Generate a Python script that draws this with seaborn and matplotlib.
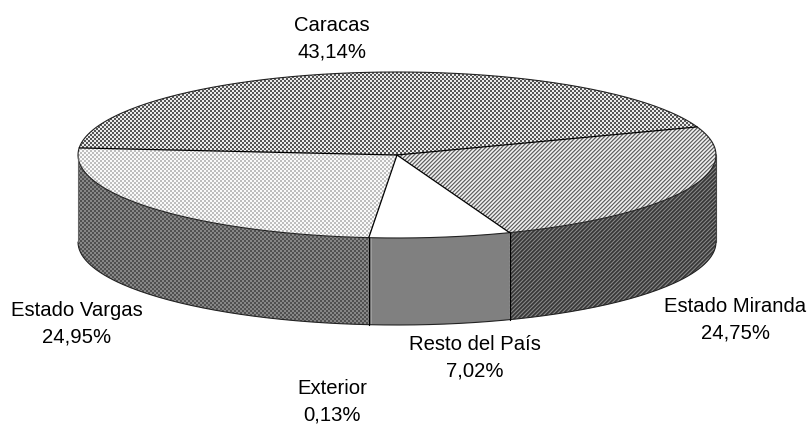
import numpy as np
import seaborn as sns
import matplotlib.pyplot as plt
from matplotlib.patches import Polygon

# Data
regions = ['Caracas', 'Estado Vargas', 'Exterior', 'Resto del País', 'Estado Miranda']
shares = [43.14, 24.95, 0.13, 7.02, 24.75]
share_labels = ['43,14%', '24,95%', '0,13%', '7,02%', '24,75%']

# Layout in pixels
W, H = 808, 424
cx, cy, rx, ry = 397, 155, 319, 83
depth = 87 / ry
start = 19.8
label_pos = [(332, 39), (77, 324), (332, 402), (475, 358), (735, 320)]

# Pixel patterns for the old style fills
tile_caracas = [[85, 85, 235, 235], [85, 85, 235, 235], [235, 235, 85, 85], [235, 235, 85, 85]]
tile_vargas = [[190, 190, 250, 250], [190, 190, 250, 250], [250, 250, 190, 190], [250, 250, 190, 190]]
tile_miranda = [[100, 160, 240, 210], [160, 240, 210, 100], [240, 210, 100, 160], [210, 100, 160, 240]]
tile_vargas_side = [[80, 80, 135, 135], [80, 80, 135, 135], [135, 135, 80, 80], [135, 135, 80, 80]]
tile_miranda_side = [[55, 90, 130, 70], [90, 130, 70, 55], [130, 70, 55, 90], [70, 55, 90, 130]]


def texture(tile):
    tile = np.array(tile, dtype=float)
    return np.tile(tile, (H // 4 + 1, W // 4 + 1))[:H, :W]


sns.set_theme(style='white')
plt.rcParams['font.family'] = ['Liberation Sans', 'DejaVu Sans']

fig = plt.figure(figsize=(W / 100, H / 100), dpi=100, facecolor='white')
ax = fig.add_axes([0, 0, 1, 1])

xlim = (-cx / rx, (W - cx) / rx)
ylim = ((cy - H) / ry, cy / ry)
extent = (xlim[0], xlim[1], ylim[0], ylim[1])


def fill_patch(patch, tile):
    im = ax.imshow(texture(tile), cmap='gray', vmin=0, vmax=255, extent=extent,
                   interpolation='nearest', aspect='auto', zorder=1)
    im.set_clip_path(patch)


# Side walls, only the part facing the viewer
edges = np.cumsum([0] + shares) / 100 * 360 + start
side_fills = [None, tile_vargas_side, 128, 128, tile_miranda_side]
for i, fill in enumerate(side_fills):
    a0, a1 = max(edges[i], 180), min(edges[i + 1], 360)
    if a0 >= a1:
        continue
    t = np.radians(np.linspace(a0, a1, 120))
    top = np.column_stack([np.cos(t), np.sin(t)])
    bottom = (top - [0, depth])[::-1]
    poly = Polygon(np.vstack([top, bottom]), closed=True, transform=ax.transData,
                   facecolor='none', edgecolor='none', zorder=2)
    ax.add_patch(poly)
    if isinstance(fill, int):
        poly.set_facecolor(str(fill / 255))
    else:
        fill_patch(poly, fill)

# Top of the pie
wedges, _ = ax.pie(shares, startangle=start, counterclock=True, radius=1, center=(0, 0),
                   wedgeprops=dict(facecolor='none', edgecolor='none', zorder=3))
top_fills = [tile_caracas, tile_vargas, None, None, tile_miranda]
for w, fill in zip(wedges, top_fills):
    if fill is not None:
        fill_patch(w, fill)

# Outlines, the tiny Exterior slice only shows as one line
t = np.linspace(0, 2 * np.pi, 400)
ax.plot(np.cos(t), np.sin(t), color='#222222', lw=0.8, zorder=4)
t = np.radians(np.linspace(180, 360, 200))
ax.plot(np.cos(t), np.sin(t) - depth, color='#222222', lw=0.8, zorder=4)
for a, col in [(180, '#666666'), (360, '#444444')]:
    r = np.radians(a)
    ax.plot([np.cos(r)] * 2, [np.sin(r), np.sin(r) - depth], color=col, lw=0.8, zorder=4)
for a in [edges[0], edges[1], edges[2], edges[4]]:
    r = np.radians(a)
    ax.plot([0, np.cos(r)], [0, np.sin(r)], color='black', lw=0.9, zorder=4)
for a in [edges[2], edges[4]]:
    r = np.radians(a)
    ax.plot([np.cos(r)] * 2, [np.sin(r), np.sin(r) - depth], color='black', lw=0.9, zorder=4)

ax.set_aspect('auto')
ax.set_xlim(*xlim)
ax.set_ylim(*ylim)
ax.set_axis_off()
sns.despine(ax=ax, left=True, bottom=True)

for name, val, (px, py) in zip(regions, share_labels, label_pos):
    ax.text((px - cx) / rx, (cy - py) / ry, f'{name}\n{val}', ha='center', va='center',
            fontsize=14.6, color='black', linespacing=1.5, zorder=5)

fig.savefig('out.png', dpi=100, facecolor='white')
